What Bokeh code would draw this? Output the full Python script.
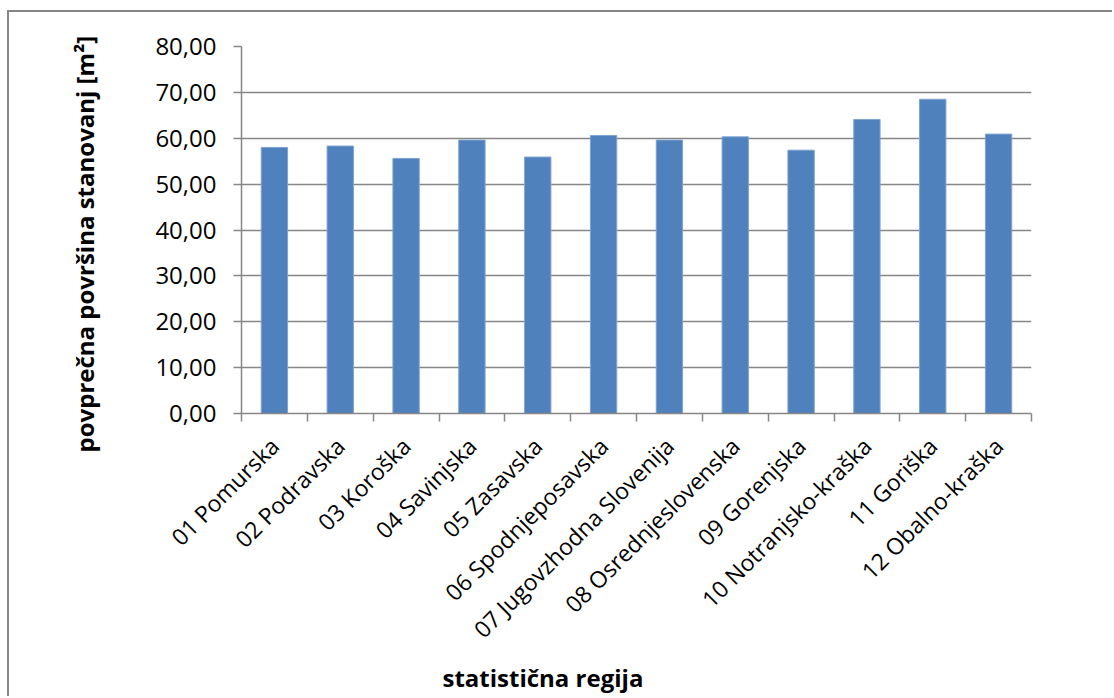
from bokeh.plotting import figure
from bokeh.models import Range1d, FixedTicker, Title
from bokeh.embed import file_html
from bokeh.resources import INLINE

# Average dwelling floor area by statistical region (m²)
regions = [
    "01 Pomurska",
    "02 Podravska",
    "03 Koroška",
    "04 Savinjska",
    "05 Zasavska",
    "06 Spodnjeposavska",
    "07 Jugovzhodna Slovenija",
    "08 Osrednjeslovenska",
    "09 Gorenjska",
    "10 Notranjsko-kraška",
    "11 Goriška",
    "12 Obalno-kraška",
]
avg_area = [58.0, 58.3, 55.6, 59.6, 55.9, 60.6, 59.6, 60.3, 57.4, 64.1, 68.5, 60.9]

y_ticks = [0, 10, 20, 30, 40, 50, 60, 70, 80]
y_tick_labels = ["0,00", "10,00", "20,00", "30,00", "40,00", "50,00", "60,00", "70,00", "80,00"]

y_title = "povprečna površina stanovanj [m²]"
x_title = "statistična regija"

FONT = "Open Sans"
GREY = "#868686"
BLUE = "#4f81bd"

n = len(regions)
centers = [i + 0.5 for i in range(n)]

p = figure(
    width=1105, height=686,
    x_range=Range1d(0, n), y_range=Range1d(0, 80),
    output_backend="svg", toolbar_location=None,
    min_border_left=232, min_border_right=83,
    min_border_top=34, min_border_bottom=284,
    background_fill_color="white", border_fill_color="white",
    margin=(10, 0, 0, 7),
    styles={"border-top": "2px solid #868686", "border-left": "2px solid #868686"},
)
p.outline_line_color = None

p.vbar(x=centers, top=avg_area, width=0.4, bottom=0,
       fill_color=BLUE, line_color="#7fa2d0", line_width=1)

# y axis
p.yaxis.ticker = FixedTicker(ticks=y_ticks)
p.yaxis.major_label_overrides = {t: lab for t, lab in zip(y_ticks, y_tick_labels)}
p.yaxis.axis_line_color = GREY
p.yaxis.axis_line_width = 1.5
p.yaxis.major_tick_line_color = GREY
p.yaxis.major_tick_line_width = 1.5
p.yaxis.major_tick_out = 8
p.yaxis.major_tick_in = 0
p.yaxis.minor_tick_line_color = None
p.yaxis.major_label_standoff = 17
p.yaxis.major_label_text_font = FONT
p.yaxis.major_label_text_font_size = "24px"
p.yaxis.major_label_text_color = "black"

# x axis: labels at category centres, tick marks at category boundaries
p.xaxis.ticker = FixedTicker(ticks=centers, minor_ticks=list(range(n + 1)))
p.xaxis.major_label_overrides = {c: r for c, r in zip(centers, regions)}
p.xaxis.major_label_orientation = 0.785398
p.xaxis.axis_line_color = GREY
p.xaxis.axis_line_width = 1.5
p.xaxis.major_tick_line_color = None
p.xaxis.minor_tick_line_color = GREY
p.xaxis.minor_tick_line_width = 1.5
p.xaxis.minor_tick_out = 8
p.xaxis.minor_tick_in = 0
p.xaxis.major_label_standoff = 20
p.xaxis.major_label_text_font = FONT
p.xaxis.major_label_text_font_size = "23px"
p.xaxis.major_label_text_color = "black"

p.xgrid.grid_line_color = None
p.ygrid.ticker = FixedTicker(ticks=y_ticks)
p.ygrid.grid_line_color = GREY
p.ygrid.grid_line_width = 1.5

# axis titles
p.add_layout(Title(text=y_title, align="left", offset=-39, standoff=104,
                   text_font=FONT, text_font_style="bold",
                   text_font_size="24px", text_color="black"), "left")
p.add_layout(Title(text=x_title, align="left", offset=201, standoff=5,
                   vertical_align="top",
                   text_font=FONT, text_font_style="bold",
                   text_font_size="24px", text_color="black"), "below")

open("out.html", "w").write(file_html(p, INLINE))
